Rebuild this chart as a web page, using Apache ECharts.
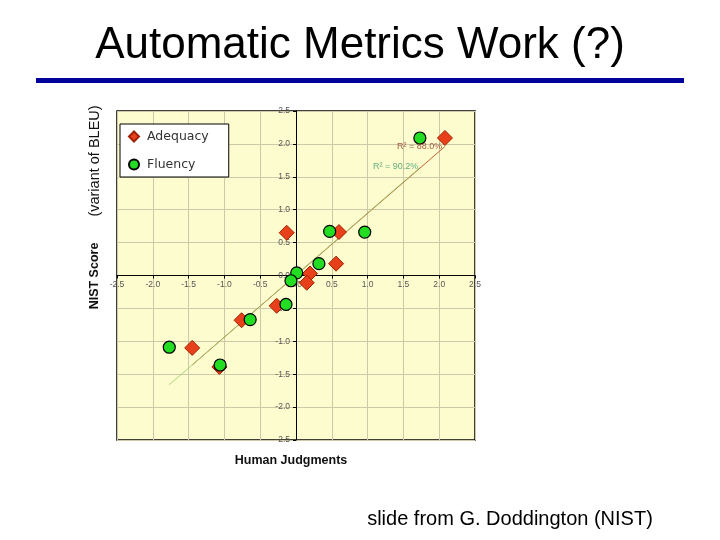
<!DOCTYPE html>
<html>
<head>
<meta charset="utf-8">
<script src="https://cdn.jsdelivr.net/npm/echarts@6/dist/echarts.min.js"></script>
<style>html,body{margin:0;padding:0;background:#fff}#c{width:720px;height:540px}</style>
</head>
<body>
<div id="c"></div>
<script>
// Data
const adequacy = [
  [2.08, 2.09], [-0.13, 0.65], [0.60, 0.66], [0.56, 0.18], [0.195, 0.03],
  [0.15, -0.11], [-0.27, -0.46], [-0.76, -0.68], [-1.45, -1.10], [-1.07, -1.39]
];
const fluency = [
  [1.73, 2.09], [0.47, 0.67], [0.96, 0.66], [0.32, 0.18], [0.01, 0.04],
  [-0.07, -0.08], [-0.14, -0.44], [-0.64, -0.67], [-1.77, -1.09], [-1.06, -1.36]
];
const adequacyTrend = [[-1.45, -1.36], [2.08, 1.96]];
const fluencyTrend = [[-1.77, -1.66], [1.73, 1.64]];
const r2Labels = [
  { name: 'R² = 88.0%', pos: [1.41, 1.96] },
  { name: 'R² = 90.2%', pos: [1.075, 1.66] }
];
const axisMin = -2.5, axisMax = 2.5, axisStep = 0.5;

const gridW = 358, gridH = 329;
const chart = echarts.init(document.getElementById('c'));
const tickFont = { fontSize: 8.5, color: '#555', fontFamily: 'Liberation Sans' };
chart.setOption({
  backgroundColor: '#fff',
  animation: false,
  title: {
    text: 'Automatic Metrics Work (?)',
    left: 'center', top: 19,
    textStyle: { fontSize: 44, fontWeight: 'normal', color: '#000', fontFamily: 'Liberation Sans' }
  },
  legend: {
    data: ['Adequacy', 'Fluency'],
    orient: 'vertical',
    left: 120, top: 124,
    padding: [6, 20, 6, 8],
    itemGap: 15,
    itemWidth: 10, itemHeight: 10,
    backgroundColor: '#fff',
    borderColor: '#000', borderWidth: 1,
    textStyle: { fontSize: 12.5, color: '#333', fontFamily: 'DejaVu Sans', padding: [0, 0, 0, 3] }
  },
  grid: {
    left: 117, top: 111, width: gridW, height: gridH,
    show: true, backgroundColor: '#fdfccf', borderColor: '#000', borderWidth: 1.5
  },
  xAxis: {
    type: 'value', min: axisMin, max: axisMax, interval: axisStep,
    position: 'bottom', offset: -gridH / 2,
    axisLine: { onZero: false, lineStyle: { color: '#000', width: 1 } },
    axisTick: { show: true, length: 3, lineStyle: { color: '#000' } },
    axisLabel: Object.assign({ margin: 5, formatter: v => v.toFixed(1) }, tickFont),
    splitLine: { show: true, lineStyle: { color: '#cdc8a8', width: 1 } }
  },
  yAxis: {
    type: 'value', min: axisMin, max: axisMax, interval: axisStep,
    position: 'left', offset: -gridW / 2,
    axisLine: { onZero: false, lineStyle: { color: '#000', width: 1 } },
    axisTick: { show: true, length: 3, lineStyle: { color: '#000' } },
    axisLabel: Object.assign({ margin: 6, formatter: v => v.toFixed(1) }, tickFont),
    splitLine: { show: true, lineStyle: { color: '#cdc8a8', width: 1 } }
  },
  series: [
    {
      name: 'trendA', type: 'line', data: adequacyTrend, symbol: 'none', z: 2,
      lineStyle: { color: '#c0603a', width: 1 }, silent: true
    },
    {
      name: 'trendF', type: 'line', data: fluencyTrend, symbol: 'none', z: 3,
      lineStyle: { color: '#9acc70', width: 1, opacity: 0.85 }, silent: true
    },
    {
      name: 'Adequacy', type: 'scatter', data: adequacy, symbol: 'diamond', symbolSize: 15, z: 4,
      itemStyle: { color: '#e8401a', borderColor: '#a02000', borderWidth: 1, opacity: 1 }
    },
    {
      name: 'Fluency', type: 'scatter', data: fluency, symbol: 'circle', symbolSize: 12, z: 5,
      itemStyle: { color: '#22dd22', borderColor: '#000', borderWidth: 1.2, opacity: 1 }
    },
    {
      name: 'r2', type: 'scatter', symbolSize: 0, z: 6, silent: true,
      data: r2Labels.map((d, i) => ({
        value: d.pos, name: d.name,
        label: {
          show: true, position: 'right', distance: 0, formatter: d.name,
          fontSize: 9, fontFamily: 'Liberation Sans',
          color: i === 0 ? '#8a3020' : '#3a9a6a'
        }
      }))
    }
  ],
  graphic: [
    { type: 'rect', left: 36, top: 78, shape: { width: 648, height: 5 }, style: { fill: '#00009a' } },
    { type: 'text', x: 95, y: 276, rotation: Math.PI / 2,
      style: { text: 'NIST Score', font: 'bold 12.5px "Liberation Sans"', fill: '#111', textAlign: 'center', textVerticalAlign: 'middle' } },
    { type: 'text', x: 95, y: 161, rotation: Math.PI / 2,
      style: { text: '(variant of BLEU)', font: '14.5px "Liberation Sans"', fill: '#111', textAlign: 'center', textVerticalAlign: 'middle' } },
    { type: 'text', x: 291, y: 461,
      style: { text: 'Human Judgments', font: 'bold 12.5px "Liberation Sans"', fill: '#111', textAlign: 'center', textVerticalAlign: 'middle' } },
    { type: 'text', x: 510, y: 519,
      style: { text: 'slide from G. Doddington (NIST)', font: '20px "Liberation Sans"', fill: '#000', textAlign: 'center', textVerticalAlign: 'middle' } }
  ]
});
</script>
</body>
</html>
